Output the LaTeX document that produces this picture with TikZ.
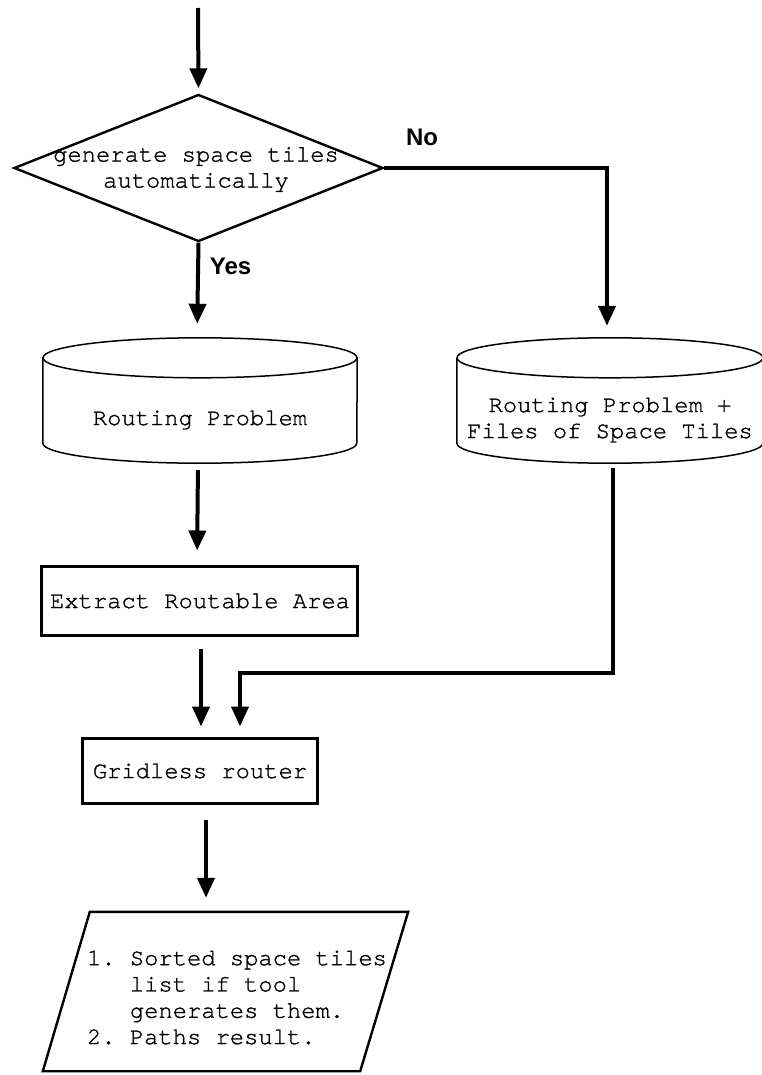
\documentclass[tikz,border=0pt]{standalone}
\usepackage{fontspec}
\usetikzlibrary{shapes.geometric,arrows.meta,calc}
\newfontfamily\courfont[FakeBold=1.2]{texgyrecursor-regular.otf}
\newfontfamily\labfont{Liberation Sans}
\begin{document}
\begin{tikzpicture}[x=1pt,y=-1pt,
  txt/.style={font=\courfont\fontsize{23.8}{26}\selectfont\frenchspacing, inner sep=0pt, align=center},
  lab/.style={font=\labfont\bfseries\fontsize{24}{26}\selectfont, inner sep=0pt},
  decision/.style={diamond, draw, line width=2.4pt, minimum width=369pt, minimum height=147pt, inner sep=0pt},
  procbox/.style={rectangle, draw, line width=3pt, inner sep=0pt},
  ghost/.style={rectangle, draw=none, inner sep=0pt},
  cyl/.style={line width=1.5pt},
  para/.style={line width=2.4pt},
  arr/.style={line width=4pt, -{Triangle[length=20pt,width=17pt]}}
]
\useasboundingbox (0,0) rectangle (762,1075);

% decision
\node[decision] (dec) at (198.5,168) {};
\node[txt] (dect) at (196,169.5) {generate space tiles\\automatically};
\coordinate (start) at (198,8);

% left cylinder
\node[ghost, minimum width=314pt, minimum height=125pt] (cylL) at (200,400.5) {};
\draw[cyl] ([yshift=-20pt]cylL.north west) -- ([yshift=20pt]cylL.south west)
  arc[start angle=180, end angle=360, x radius=157pt, y radius=20pt]
  -- ([yshift=-20pt]cylL.north east);
\draw[cyl] ([yshift=-20pt]cylL.north) ellipse [x radius=157pt, y radius=20pt];
\node[txt] (cylLt) at (200,420) {Routing Problem};

% right cylinder
\node[ghost, minimum width=306pt, minimum height=125pt] (cylR) at (610,400.5) {};
\draw[cyl] ([yshift=-20pt]cylR.north west) -- ([yshift=20pt]cylR.south west)
  arc[start angle=180, end angle=360, x radius=153pt, y radius=20pt]
  -- ([yshift=-20pt]cylR.north east);
\draw[cyl] ([yshift=-20pt]cylR.north) ellipse [x radius=153pt, y radius=20pt];
\node[txt] (cylRt) at (610,420) {Routing Problem +\\Files of Space Tiles};

% boxes
\node[procbox, minimum width=316pt, minimum height=69pt] (ext) at (199,600.5) {};
\node[txt] (extt) at (200,601) {Extract Routable Area};
\node[procbox, minimum width=235pt, minimum height=65pt] (grid) at (199.5,770.5) {};
\node[txt] (gridt) at (200,771) {Gridless router};

% output parallelogram
\node[ghost, minimum width=365pt, minimum height=159pt] (outp) at (225.5,991.5) {};
\draw[para] ([xshift=47pt]outp.north west) -- (outp.north east)
  -- ([xshift=-48pt]outp.south east) -- (outp.south west) -- cycle;
\node[txt, align=left, font=\courfont\fontsize{23.8}{26.3}\selectfont\frenchspacing] (outt) at (237,997.5)
  {1. Sorted space tiles\\\phantom{1. }list if tool\\\phantom{1. }generates them.\\2. Paths result.};

% labels
\node[lab] (yes) at (230.5,266) {Yes};
\node[lab] (no) at (422,137) {No};

% connectors
\draw[arr, shorten >=5pt] (start) -- (dec.north);
\draw[arr, shorten >=14pt] (dec.south) -- ([xshift=-3pt]cylL.north);
\draw[arr, shorten >=12pt] (dec.east) -| ([xshift=-3pt]cylR.north);
\draw[arr, shorten <=7pt, shorten >=14pt] ([xshift=-2pt]cylL.south) -- ([xshift=-2pt]ext.north);
\draw[arr, shorten <=12pt, shorten >=10pt] ([xshift=2pt]ext.south) -- ([xshift=1.5pt]grid.north);
\coordinate (bend) at (240,673);
\draw[arr, shorten <=5pt, shorten >=10pt] ([xshift=3pt]cylR.south) |- (bend) -- (bend |- grid.north);
\draw[arr, shorten <=15pt, shorten >=14pt] ([xshift=6.5pt]grid.south) -- ([xshift=6.5pt]grid.south |- outp.north);
\end{tikzpicture}
\end{document}
